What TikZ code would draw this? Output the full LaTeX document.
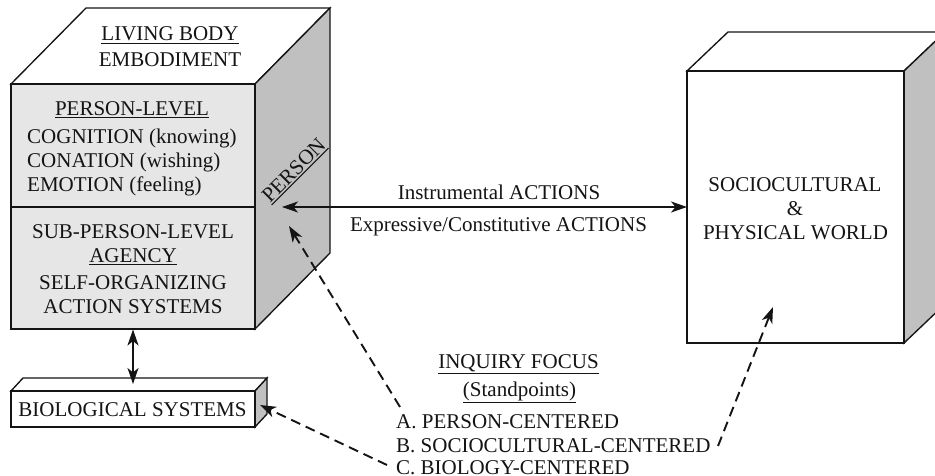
\documentclass[tikz,border=0pt]{standalone}
\usepackage{fontspec}
\setmainfont{Liberation Serif}
\usetikzlibrary{arrows.meta}
\definecolor{frontgray}{HTML}{E6E6E6}
\definecolor{sidegray}{HTML}{C0C0C0}
\definecolor{ink}{HTML}{141414}
\newsavebox\myulbox
\newcommand\myul[1]{\sbox\myulbox{#1}\leavevmode\rlap{\rule[-\dimexpr\dp\myulbox+2.6pt\relax]{\wd\myulbox}{1.2pt}}\usebox\myulbox}
\begin{document}
\begin{tikzpicture}[x=1pt,y=-1pt,
  >={Stealth[length=16pt,width=11pt,inset=4.5pt]},
  txt/.style={font=\fontsize{21}{24}\selectfont, text=ink, inner sep=0pt, anchor=base},
  ltxt/.style={txt, anchor=base west},
  face/.style={draw=ink, line width=1.35pt, line join=miter},
  solidarr/.style={draw=ink, line width=1.9pt, <->},
  dasharr/.style={draw=ink, line width=1.9pt, dash pattern=on 10pt off 6pt, ->}]
\clip (0,0) rectangle (935,476);
\fill[white] (0,0) rectangle (935,476);

% ---- left cube (person)
\coordinate (LA) at (11,84);
\coordinate (LB) at (255,84);
\coordinate (LC) at (255,329);
\coordinate (LD) at (11,329);
\coordinate (LE) at (86,8);
\coordinate (LF) at (330,8);
\coordinate (LG) at (330,253);
\coordinate (LM1) at (11,207);
\coordinate (LM2) at (255,207);
\filldraw[face, fill=white] (LA) -- (LE) -- (LF) -- (LB) -- cycle;
\filldraw[face, fill=sidegray] (LB) -- (LF) -- (LG) -- (LC) -- cycle;
\filldraw[face, fill=frontgray] (LA) -- (LB) -- (LC) -- (LD) -- cycle;
\draw[face] (LM1) -- (LM2);

% ---- right cube (world)
\coordinate (RA) at (687,71);
\coordinate (RB) at (904,71);
\coordinate (RC) at (904,343);
\coordinate (RD) at (687,343);
\coordinate (RE) at (728,32);
\coordinate (RF) at (945,32);
\coordinate (RG) at (945,304);
\filldraw[face, fill=white] (RA) -- (RE) -- (RF) -- (RB) -- cycle;
\filldraw[face, fill=sidegray] (RB) -- (RF) -- (RG) -- (RC) -- cycle;
\filldraw[face, fill=white] (RA) -- (RB) -- (RC) -- (RD) -- cycle;

% ---- biological systems box
\coordinate (BA) at (11,391);
\coordinate (BB) at (255,391);
\coordinate (BC) at (255,427);
\coordinate (BD) at (11,427);
\coordinate (BE) at (23,378);
\coordinate (BF) at (267,378);
\coordinate (BG) at (267,414);
\filldraw[face, fill=white] (BA) -- (BE) -- (BF) -- (BB) -- cycle;
\filldraw[face, fill=sidegray] (BB) -- (BF) -- (BG) -- (BC) -- cycle;
\filldraw[face, fill=white] (BA) -- (BB) -- (BC) -- (BD) -- cycle;

% ---- texts on left cube
\node[txt] (t1) at (170,41) {\myul{LIVING BODY}};
\node[txt] (t2) at (170,67) {EMBODIMENT};
\node[txt] (t3) at (132,115.5) {\myul{PERSON-LEVEL}};
\node[ltxt] (t4) at (27,143.5) {COGNITION (knowing)};
\node[ltxt] (t5) at (27,167.7) {CONATION (wishing)};
\node[ltxt] (t6) at (27,192) {EMOTION (feeling)};
\node[txt] (t7) at (133,238.5) {SUB-PERSON-LEVEL};
\node[txt] (t8) at (133,262) {\myul{AGENCY}};
\node[txt] (t9) at (133,289) {SELF-ORGANIZING};
\node[txt] (t10) at (133,313) {ACTION SYSTEMS};
\node[txt, rotate=45] (person) at (298.5,175) {\myul{PERSON}};
\node[txt] (bio) at (132.5,416) {BIOLOGICAL SYSTEMS};

% ---- texts on right cube
\node[txt] (w1) at (795,192) {SOCIOCULTURAL};
\node[txt] (w2) at (795,215) {\&};
\node[txt] (w3) at (795.5,239) {PHYSICAL WORLD};

% ---- action labels
\node[txt] (act1) at (499,200) {Instrumental ACTIONS};
\node[txt] (act2) at (498.5,232) {Expressive/Constitutive ACTIONS};

% ---- inquiry focus
\node[txt] (iq1) at (518.5,368) {\myul{INQUIRY FOCUS}};
\node[txt] (iq2) at (519.5,396) {\myul{(Standpoints)}};
\node[ltxt] (iqa) at (396,428) {A. PERSON-CENTERED};
\node[ltxt] (iqb) at (396,452.5) {B. SOCIOCULTURAL-CENTERED};
\node[ltxt] (iqc) at (396,474) {C. BIOLOGY-CENTERED};

% ---- connectors
\coordinate (v1) at (133,329.5);
\coordinate (v2) at (133,384);
\draw[solidarr] (v1) -- (v2);
\coordinate (h1) at (282,207);
\coordinate (h2) at (687,207);
\draw[solidarr] (h1) -- (h2);
\coordinate (a1) at (400,407);
\coordinate (a2) at (289,226);
\draw[dasharr] (a1) -- (a2);
\coordinate (b1) at (718,446);
\coordinate (b2) at (773,307);
\draw[dasharr] (b1) -- (b2);
\coordinate (c1) at (387,465);
\coordinate (c2) at (260,405);
\draw[dasharr] (c1) -- (c2);
\end{tikzpicture}
\end{document}
